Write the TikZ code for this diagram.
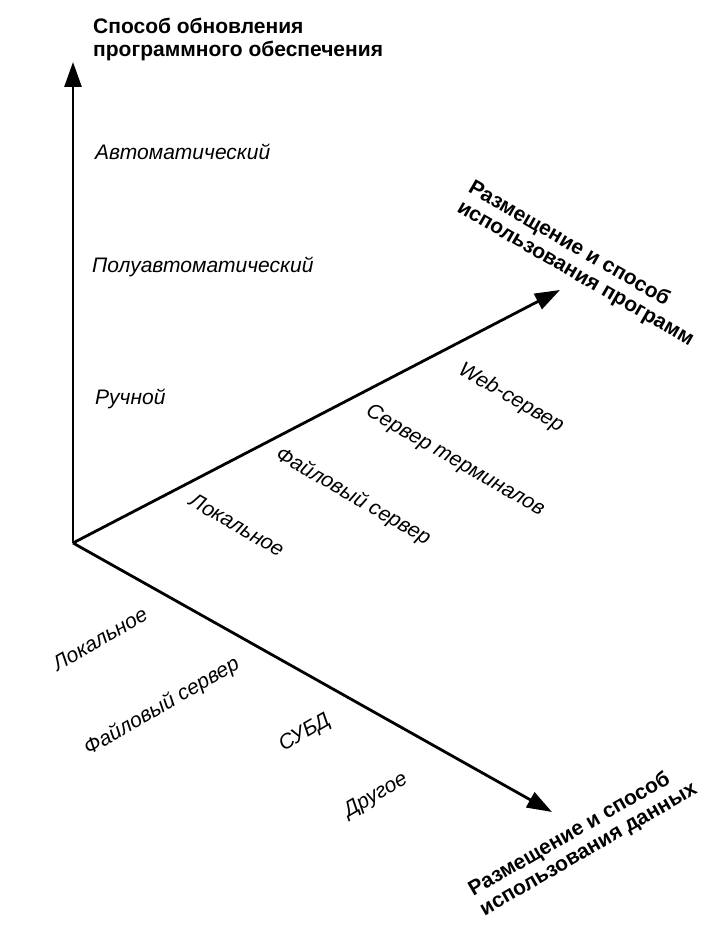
\documentclass[tikz,border=0pt]{standalone}
\usepackage{fontspec}
\setmainfont{Liberation Sans}
\usetikzlibrary{arrows.meta}
\begin{document}
\begin{tikzpicture}[
    x=1pt, y=1pt,
    axis/.style={line width=2.8pt, -{Triangle[length=25pt, width=17pt]}},
    title/.style={font=\fontsize{21}{22.5}\selectfont\bfseries, align=left, inner sep=0pt},
    level/.style={font=\fontsize{21}{24}\selectfont\itshape, inner sep=0pt},
  ]
    \useasboundingbox (0,0) rectangle (724,929);
    % Axes
    \coordinate (o) at (73,386);
    \coordinate (upd) at (73,867);
    \coordinate (prog) at (560,639);
    \coordinate (data) at (552,117);
    \draw[axis] (o) -- (upd);
    \draw[axis] (o) -- (prog);
    \draw[axis] (o) -- (data);
    % Axis titles
    \node[title, anchor=north west] (updtitle) at (93,911) {Способ обновления\\программного обеспечения};
    \node[title, rotate=-30] (progtitle) at (581,665) {Размещение и способ\\использования программ};
    \node[title, rotate=30] (datatitle) at (583,89) {Размещение и способ\\использования данных};
    % Update levels
    \node[level, anchor=west] (auto) at (95,777) {Автоматический};
    \node[level, anchor=west] (semi) at (92,662) {Полуавтоматический};
    \node[level, anchor=west] (manual) at (95,530) {Ручной};
    % Program placement levels
    \node[level, rotate=-30] (plocal) at (237,404) {Локальное};
    \node[level, rotate=-30] (pfile) at (353,432) {Файловый сервер};
    \node[level, rotate=-30] (pterm) at (455,468) {Сервер терминалов};
    \node[level, rotate=-30] (pweb) at (511,531) {Web-сервер};
    % Data placement levels
    \node[level, rotate=30] (dlocal) at (100,290) {Локальное};
    \node[level, rotate=30] (dfile) at (162,222) {Файловый сервер};
    \node[level, rotate=30] (ddbms) at (305,196) {СУБД};
    \node[level, rotate=30] (dother) at (376,133) {Другое};
\end{tikzpicture}
\end{document}
